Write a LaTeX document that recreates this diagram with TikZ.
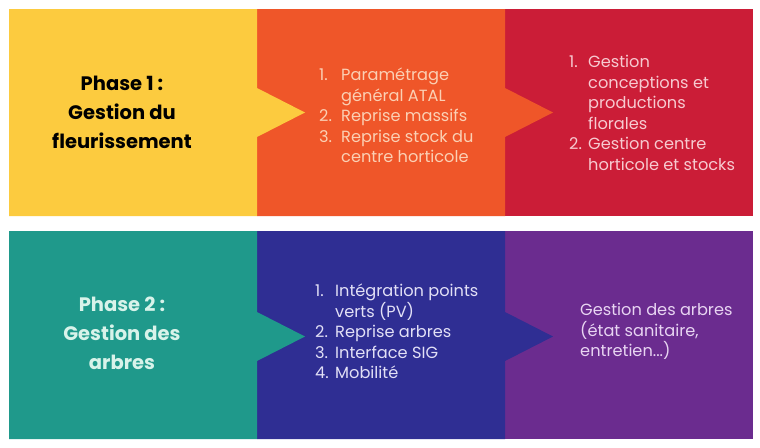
\documentclass[tikz,border=0pt]{standalone}
\usepackage{fontspec}
\setmainfont{Poppins}
\begin{document}
\begin{tikzpicture}[x=1pt,y=-1pt,
  title/.style={font=\fontsize{19.5}{29}\selectfont\bfseries, align=center, inner sep=0pt},
  listtxt/.style={font=\fontsize{16.2}{20.5}\selectfont, align=left, inner sep=0pt, anchor=north west}]
\definecolor{cyellow}{HTML}{FCCB3F}
\definecolor{corange}{HTML}{EF5629}
\definecolor{cred}{HTML}{CB1D37}
\definecolor{cteal}{HTML}{1F998B}
\definecolor{cindigo}{HTML}{2F2E93}
\definecolor{cpurple}{HTML}{6B2C8F}
\definecolor{torange}{HTML}{FBD0B4}
\definecolor{tred}{HTML}{F7CAD0}
\definecolor{tteal}{HTML}{D8F3EA}
\definecolor{tindigo}{HTML}{E2E0F6}
\definecolor{tpurple}{HTML}{E8D5F2}
\useasboundingbox (0,0) rectangle (760,447);
\fill[white] (0,0) rectangle (760,447);
% top row
\fill[cred] (505,9) rectangle (753,216);
\fill[corange] (257,9) -- (505,9) -- (505,88) -- (553,112.5) -- (505,137) -- (505,216) -- (257,216) -- cycle;
\fill[cyellow] (9,9) -- (257,9) -- (257,88) -- (305,112.5) -- (257,137) -- (257,216) -- (9,216) -- cycle;
% bottom row
\fill[cpurple] (505,231) rectangle (753,439);
\fill[cindigo] (257,231) -- (505,231) -- (505,312) -- (553,336.5) -- (505,361) -- (505,439) -- (257,439) -- cycle;
\fill[cteal] (9,231) -- (257,231) -- (257,312) -- (305,336.5) -- (257,361) -- (257,439) -- (9,439) -- cycle;
% texts
\node[title, text=black] (t1) at (122,112) {Phase 1 :\\Gestion du\\fleurissement};
\node[listtxt, text=torange] (l1) at (319,68) {\makebox[22pt][l]{1.}Paramétrage\\\hspace*{22pt}général ATAL\\\makebox[22pt][l]{2.}Reprise massifs\\\makebox[22pt][l]{3.}Reprise stock du\\\hspace*{22pt}centre horticole};
\node[listtxt, text=tred] (r1) at (569,55) {\makebox[19pt][l]{1.}Gestion\\\hspace*{19pt}conceptions et\\\hspace*{19pt}productions\\\hspace*{19pt}florales\\\makebox[19pt][l]{2.}Gestion centre\\\hspace*{19pt}horticole et stocks};
\node[title, text=tteal] (t2) at (122,333) {Phase 2 :\\Gestion des\\arbres};
\node[listtxt, text=tindigo] (l2) at (315,284) {\makebox[20pt][l]{1.}Intégration points\\\hspace*{20pt}verts (PV)\\\makebox[20pt][l]{2.}Reprise arbres\\\makebox[20pt][l]{3.}Interface SIG\\\makebox[20pt][l]{4.}Mobilité};
\node[listtxt, text=tpurple] (r2) at (580,303) {Gestion des arbres\\(état sanitaire,\\entretien...)};
\end{tikzpicture}
\end{document}
